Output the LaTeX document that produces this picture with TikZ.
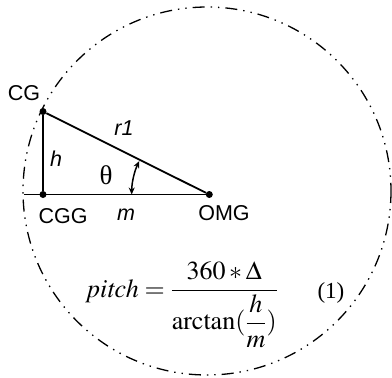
\documentclass[tikz,border=0pt]{standalone}
\usepackage{mathptmx}
\usepackage[no-math]{fontspec}
\setmainfont{Liberation Serif}
\newfontfamily\labfont{Liberation Sans}
\usetikzlibrary{arrows.meta}
\tikzset{
  dotnode/.style={circle,fill=black,inner sep=0pt,minimum size=7pt},
  lab/.style={inner sep=0pt,font=\labfont\fontsize{21.5}{24}\selectfont},
  ilab/.style={inner sep=0pt,font=\labfont\itshape\fontsize{21.5}{24}\selectfont},
  edge/.style={line width=1.8pt},
  orbit/.style={line width=1.3pt,dash pattern=on 12pt off 6pt on 1.4pt off 6pt on 1.4pt off 6pt},
  angarrow/.style={line width=1.5pt,{Stealth[length=7pt,width=6pt]}-{Stealth[length=7pt,width=6pt]}}
}
\begin{document}
\begin{tikzpicture}[x=1pt,y=-1pt]
\useasboundingbox (0,0) rectangle (392,378);
% outer dash-dot-dot circle
\coordinate (centre) at (207,191);
\draw[orbit] (centre) circle[radius=184];
% points
\node[dotnode] (CG) at (43,111.5) {};
\node[dotnode] (CGG) at (43,194.5) {};
\node[dotnode] (OMG) at (209.3,194.5) {};
\coordinate (L) at (24,194.5);
% triangle
\draw[edge] (L) -- (OMG);
\draw[edge] (CG) -- (CGG);
\draw[edge] (CG) -- (OMG);
% angle arrow
\draw[angarrow] ([shift={(180:77.6)}]OMG.center) arc[start angle=180,end angle=205.5,radius=77.6];
% labels
\node[lab] (tCG) at (24,93.5) {CG};
\node[ilab] (th) at (56,158.5) {h};
\node[ilab] (tr) at (124,128) {r1};
\node[inner sep=0pt,font=\fontsize{27}{30}\selectfont] (ttheta) at (106,175) {θ};
\node[lab] (tCGG) at (63,216) {CGG};
\node[ilab] (tm) at (126,215) {m};
\node[lab] (tOMG) at (224,213) {OMG};
% formula
\node[inner sep=0pt,anchor=base west,font=\fontsize{26}{30}\selectfont] (eq) at (87,297)
  {$\displaystyle\mathit{pitch}=\frac{360\ast\Delta}{\arctan(\displaystyle\frac{h}{m})}$};
\node[inner sep=0pt,font=\fontsize{23}{27}\selectfont] (eqno) at (331,293) {(1)};
\end{tikzpicture}
\end{document}
